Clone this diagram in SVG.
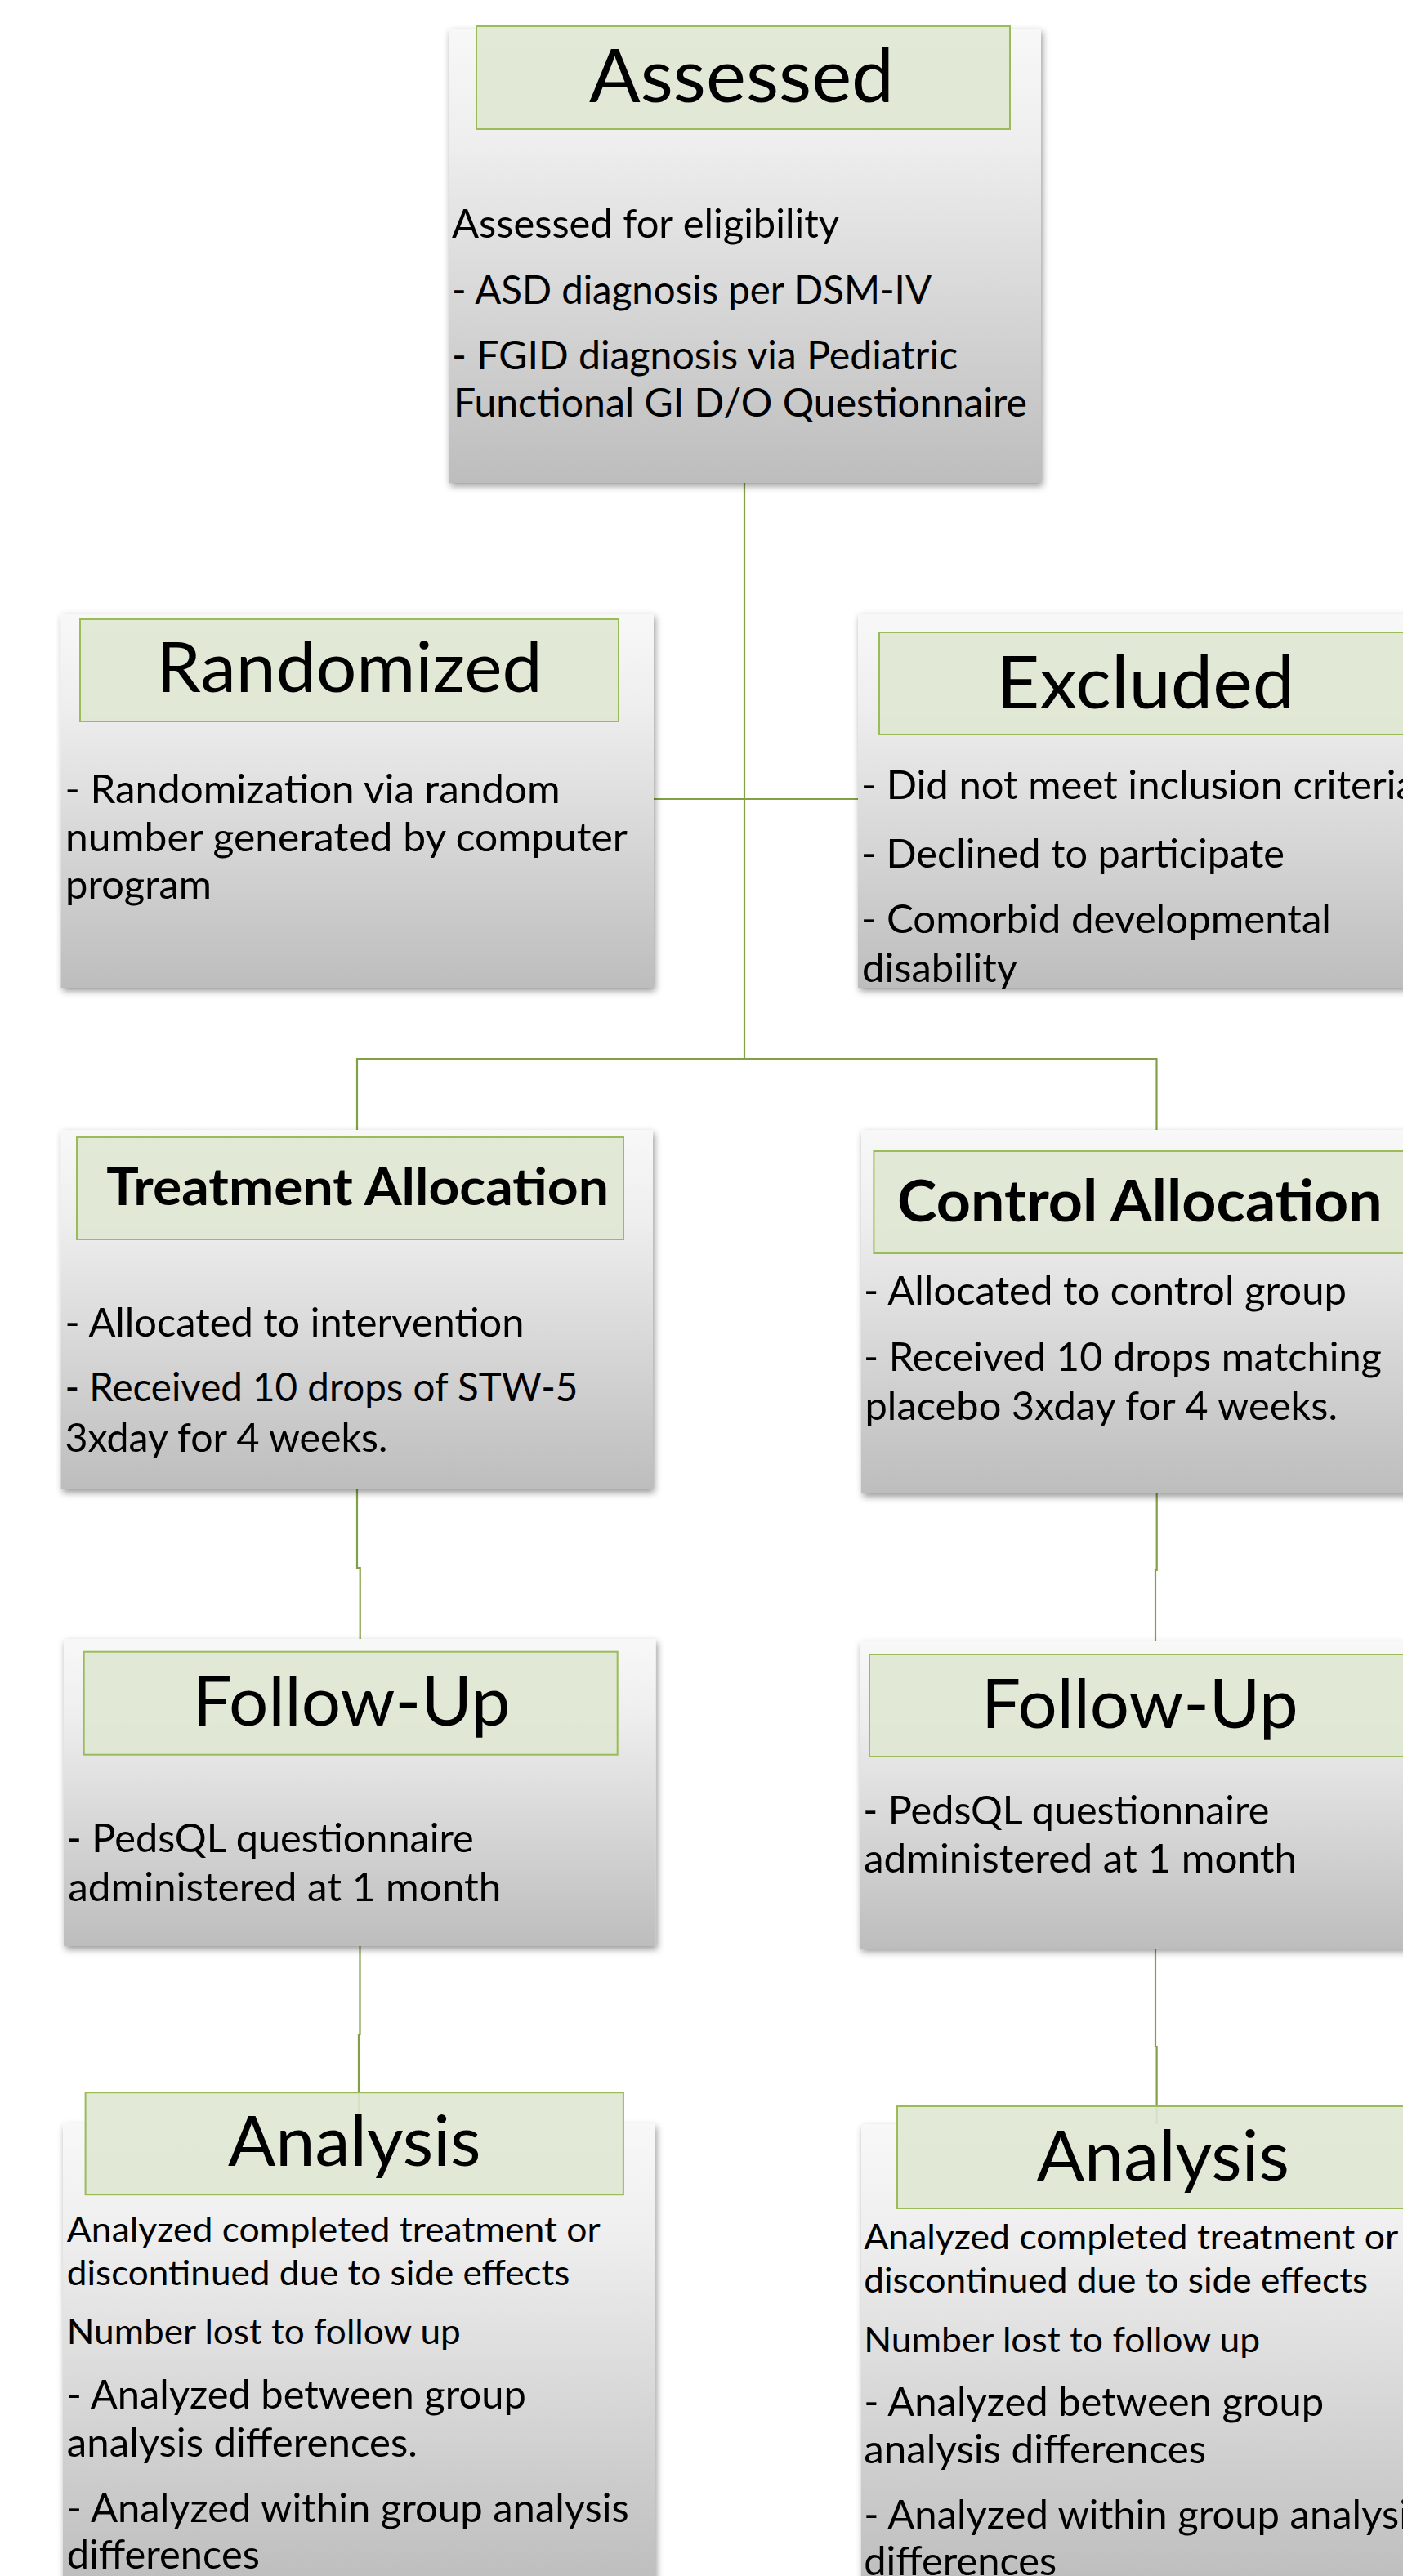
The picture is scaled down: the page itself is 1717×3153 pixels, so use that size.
<svg xmlns="http://www.w3.org/2000/svg" width="1717" height="3153" viewBox="0 0 1717 3153">
  <defs>
    <linearGradient id="panelFill" x1="0" y1="0" x2="0" y2="1">
      <stop offset="0" stop-color="#f8f8f8"/>
      <stop offset="0.25" stop-color="#eeeeee"/>
      <stop offset="1" stop-color="#bdbdbd"/>
    </linearGradient>
    <filter id="softShadow" x="-5%" y="-5%" width="115%" height="115%">
      <feDropShadow dx="2" dy="4" stdDeviation="4" flood-color="#000" flood-opacity="0.4"/>
    </filter>
  </defs>
  <style>
    .panel { fill: url(#panelFill); filter: url(#softShadow); }
    .head { fill: #dfe7d2; fill-opacity: 0.9; stroke: #9bbb59; stroke-width: 2; }
    .title { font-family: Lato, "Liberation Sans", sans-serif; fill: #000; }
    .bold { font-weight: bold; }
    .body { font-family: Lato, "Liberation Sans", sans-serif; font-size: 47.7px; fill: #000; }
    .small { font-size: 42.8px; }
    .link { fill: none; stroke: #82a046; stroke-width: 2.2; }
  </style>
  <rect width="1717" height="3153" fill="#ffffff"/>

  <!-- connectors -->
  <g id="connectors">
    <path class="link" d="M911 591 V1296"/>
    <path class="link" d="M800 978 H1050"/>
    <path class="link" d="M437 1383 V1296 H1415.5 V1383"/>
    <path class="link" d="M437 1823 V1919 H440.7 V2006"/>
    <path class="link" d="M1415.7 1828 V1922 H1414 V2009"/>
    <path class="link" d="M440.5 2382 V2490 H439 V2599"/>
    <path class="link" d="M1414 2385 V2505 H1415.6 V2600"/>
  </g>

  <!-- Assessed -->
  <g id="assessed">
    <rect class="panel" x="549" y="35" width="725" height="556"/>
    <rect class="head" x="583" y="32" width="653" height="126"/>
    <text class="title" x="721" y="125" font-size="92" textLength="373" lengthAdjust="spacingAndGlyphs">Assessed</text>
    <text class="body" x="553" y="290.5" textLength="474" lengthAdjust="spacingAndGlyphs">Assessed for eligibility</text>
    <text class="body" x="553" y="372" textLength="587" lengthAdjust="spacingAndGlyphs">- ASD diagnosis per DSM-IV</text>
    <text class="body" x="553" y="452" textLength="619" lengthAdjust="spacingAndGlyphs">- FGID diagnosis via Pediatric</text>
    <text class="body" x="555" y="510" textLength="702" lengthAdjust="spacingAndGlyphs">Functional GI D/O Questionnaire</text>
  </g>

  <!-- Randomized -->
  <g id="randomized">
    <rect class="panel" x="74.5" y="751" width="725.5" height="458"/>
    <rect class="head" x="98" y="758" width="659" height="125"/>
    <text class="title" x="191" y="847" font-size="85" textLength="472.5" lengthAdjust="spacingAndGlyphs">Randomized</text>
    <text class="body" x="79.5" y="983.3" textLength="606" lengthAdjust="spacingAndGlyphs">- Randomization via random</text>
    <text class="body" x="80" y="1041.7" textLength="688" lengthAdjust="spacingAndGlyphs">number generated by computer</text>
    <text class="body" x="80" y="1099.7" textLength="179" lengthAdjust="spacingAndGlyphs">program</text>
  </g>

  <!-- Excluded -->
  <g id="excluded">
    <rect class="panel" x="1050" y="751" width="725" height="458"/>
    <rect class="head" x="1076" y="774" width="652" height="125"/>
    <text class="title" x="1219.3" y="866.7" font-size="90" textLength="365" lengthAdjust="spacingAndGlyphs">Excluded</text>
    <text class="body" x="1054" y="978" textLength="679" lengthAdjust="spacingAndGlyphs">- Did not meet inclusion criteria</text>
    <text class="body" x="1054" y="1061.7" textLength="518" lengthAdjust="spacingAndGlyphs">- Declined to participate</text>
    <text class="body" x="1054" y="1141.7" textLength="575" lengthAdjust="spacingAndGlyphs">- Comorbid developmental</text>
    <text class="body" x="1055" y="1201.7" textLength="190" lengthAdjust="spacingAndGlyphs">disability</text>
  </g>

  <!-- Treatment Allocation -->
  <g id="treatment-allocation">
    <rect class="panel" x="74.5" y="1383" width="724.5" height="440"/>
    <rect class="head" x="94" y="1392" width="669" height="125"/>
    <text class="title bold" x="130.3" y="1475" font-size="63" textLength="614.7" lengthAdjust="spacingAndGlyphs">Treatment Allocation</text>
    <text class="body" x="79.4" y="1636" textLength="562" lengthAdjust="spacingAndGlyphs">- Allocated to intervention</text>
    <text class="body" x="79.4" y="1715" textLength="628" lengthAdjust="spacingAndGlyphs">- Received 10 drops of STW-5</text>
    <text class="body" x="79.4" y="1776.7" textLength="395" lengthAdjust="spacingAndGlyphs">3xday for 4 weeks.</text>
  </g>

  <!-- Control Allocation -->
  <g id="control-allocation">
    <rect class="panel" x="1054" y="1383" width="725" height="445"/>
    <rect class="head" x="1069.4" y="1409" width="653" height="125"/>
    <text class="title bold" x="1098" y="1495" font-size="71" textLength="593.7" lengthAdjust="spacingAndGlyphs">Control Allocation</text>
    <text class="body" x="1057" y="1597.3" textLength="591" lengthAdjust="spacingAndGlyphs">- Allocated to control group</text>
    <text class="body" x="1057" y="1678.3" textLength="634" lengthAdjust="spacingAndGlyphs">- Received 10 drops matching</text>
    <text class="body" x="1058.5" y="1738.3" textLength="578.5" lengthAdjust="spacingAndGlyphs">placebo 3xday for 4 weeks.</text>
  </g>

  <!-- Follow-Up, treatment arm -->
  <g id="follow-up-treatment">
    <rect class="panel" x="78" y="2006" width="724.6" height="376"/>
    <rect class="head" x="102.7" y="2021.7" width="653" height="126"/>
    <text class="title" x="235.5" y="2111.7" font-size="84" textLength="389" lengthAdjust="spacingAndGlyphs">Follow-Up</text>
    <text class="body" x="81.8" y="2267.3" textLength="498" lengthAdjust="spacingAndGlyphs">- PedsQL questionnaire</text>
    <text class="body" x="83.3" y="2326.7" textLength="530" lengthAdjust="spacingAndGlyphs">administered at 1 month</text>
  </g>

  <!-- Follow-Up, control arm -->
  <g id="follow-up-control">
    <rect class="panel" x="1052" y="2009" width="725" height="376"/>
    <rect class="head" x="1064" y="2025" width="660" height="125"/>
    <text class="title" x="1201" y="2115" font-size="84" textLength="387.8" lengthAdjust="spacingAndGlyphs">Follow-Up</text>
    <text class="body" x="1056.3" y="2233.3" textLength="497" lengthAdjust="spacingAndGlyphs">- PedsQL questionnaire</text>
    <text class="body" x="1057" y="2291.7" textLength="530" lengthAdjust="spacingAndGlyphs">administered at 1 month</text>
  </g>

  <!-- Analysis, treatment arm -->
  <g id="analysis-treatment">
    <rect class="panel" x="77" y="2599" width="724.6" height="566"/>
    <rect class="head" x="104.6" y="2561.2" width="658.3" height="125"/>
    <text class="title" x="279" y="2651.2" font-size="85" textLength="309.4" lengthAdjust="spacingAndGlyphs">Analysis</text>
    <text class="body small" x="81.8" y="2744" textLength="653" lengthAdjust="spacingAndGlyphs">Analyzed completed treatment or</text>
    <text class="body small" x="81.8" y="2796.5" textLength="615.6" lengthAdjust="spacingAndGlyphs">discontinued due to side effects</text>
    <text class="body small" x="81.8" y="2869.2" textLength="482" lengthAdjust="spacingAndGlyphs">Number lost to follow up</text>
    <text class="body" x="81.8" y="2948" textLength="562" lengthAdjust="spacingAndGlyphs">- Analyzed between group</text>
    <text class="body" x="81.8" y="3006.5" textLength="429" lengthAdjust="spacingAndGlyphs">analysis differences.</text>
    <text class="body" x="81.8" y="3087.2" textLength="688" lengthAdjust="spacingAndGlyphs">- Analyzed within group analysis</text>
    <text class="body" x="81.8" y="3143.7" textLength="236" lengthAdjust="spacingAndGlyphs">differences</text>
  </g>

  <!-- Analysis, control arm -->
  <g id="analysis-control">
    <rect class="panel" x="1054" y="2600" width="725" height="566"/>
    <rect class="head" x="1098" y="2578" width="652" height="125"/>
    <text class="title" x="1268.8" y="2669.4" font-size="85" textLength="309" lengthAdjust="spacingAndGlyphs">Analysis</text>
    <text class="body small" x="1057.2" y="2753.3" textLength="654" lengthAdjust="spacingAndGlyphs">Analyzed completed treatment or</text>
    <text class="body small" x="1057.2" y="2805.8" textLength="617" lengthAdjust="spacingAndGlyphs">discontinued due to side effects</text>
    <text class="body small" x="1057.2" y="2878.5" textLength="485" lengthAdjust="spacingAndGlyphs">Number lost to follow up</text>
    <text class="body" x="1057.2" y="2957.2" textLength="563" lengthAdjust="spacingAndGlyphs">- Analyzed between group</text>
    <text class="body" x="1057.2" y="3014.6" textLength="419" lengthAdjust="spacingAndGlyphs">analysis differences</text>
    <text class="body" x="1057.2" y="3095.3" textLength="688" lengthAdjust="spacingAndGlyphs">- Analyzed within group analysis</text>
    <text class="body" x="1057.2" y="3151.8" textLength="236" lengthAdjust="spacingAndGlyphs">differences</text>
  </g>
</svg>
